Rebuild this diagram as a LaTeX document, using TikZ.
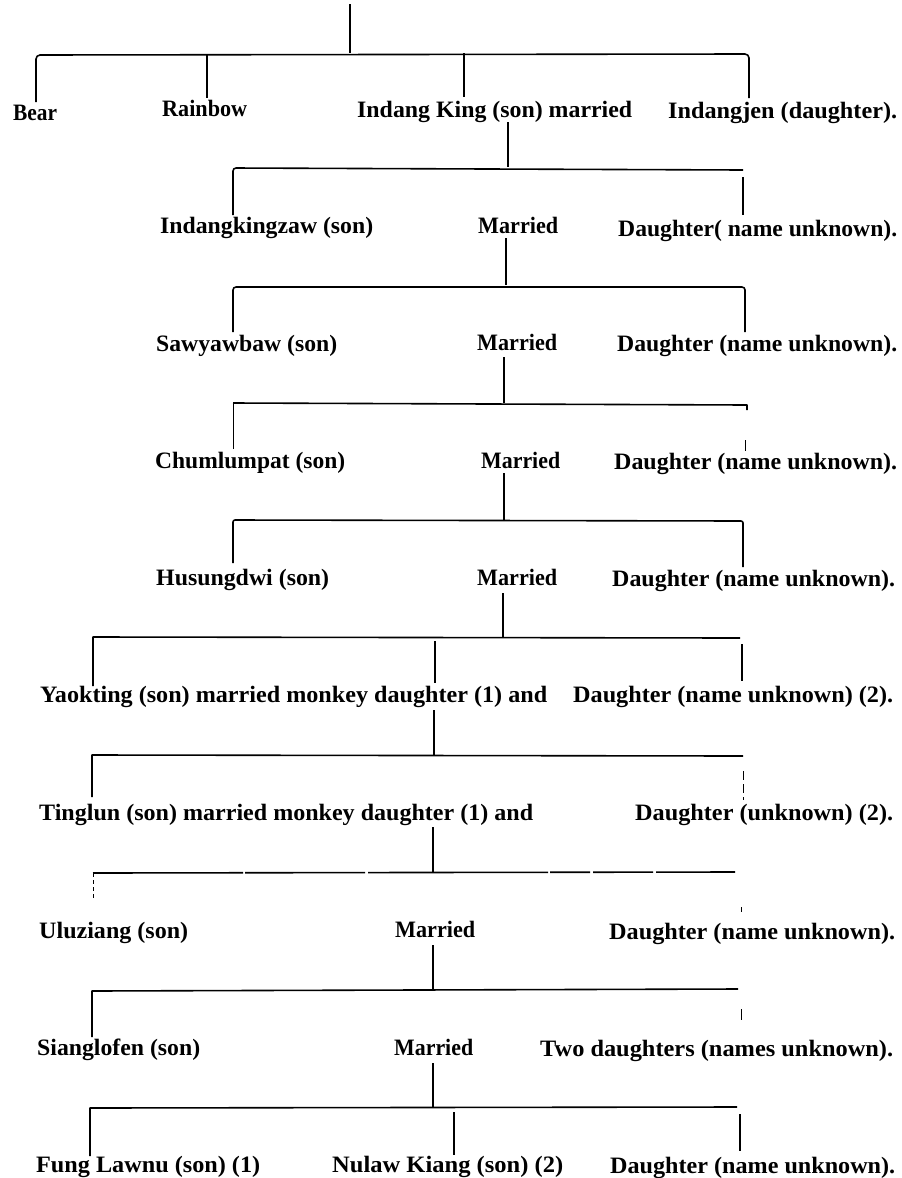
\documentclass[tikz,border=0pt]{standalone}
\usepackage{fontspec}
\setmainfont{Liberation Serif}
\usepackage{graphicx}
\newsavebox\fitbox
\newcommand\fitw[2]{\sbox\fitbox{#2}\pgfmathsetmacro\fitr{#1/\wd\fitbox}\scalebox{\fitr}[1]{\usebox\fitbox}}
\begin{document}
\begin{tikzpicture}[x=1pt,y=-1pt,
  txt/.style={anchor=base west, inner sep=0pt, font=\bfseries\fontsize{23.5}{27}\selectfont},
  bar/.style={line width=1.6pt, line join=round},
  drop/.style={line width=2.6pt},
  leg/.style={line width=1.6pt},
  faint/.style={line width=0.8pt}]
\fill[white] (0,0) rectangle (902,1178);
\useasboundingbox (0,0) rectangle (902,1178);

% ---------- texts ----------
% row 1
\node[txt] (bear)      at (13,120)  {\fitw{44}{Bear}};
\node[txt] (rainbow)   at (162,116) {\fitw{85}{Rainbow}};
\node[txt] (indang)    at (357,117) {\fitw{275}{Indang King (son) married}};
\node[txt] (indangjen) at (668,118) {\fitw{229}{Indangjen (daughter).}};
% row 2
\node[txt] (s2) at (160,233) {\fitw{213}{Indangkingzaw (son)}};
\node[txt] (m2) at (478,233) {\fitw{80}{Married}};
\node[txt] (d2) at (618,236) {\fitw{279}{Daughter( name unknown).}};
% row 3
\node[txt] (s3) at (156,351) {\fitw{181}{Sawyawbaw (son)}};
\node[txt] (m3) at (477,350) {\fitw{80}{Married}};
\node[txt] (d3) at (617,351) {\fitw{280}{Daughter (name unknown).}};
% row 4
\node[txt] (s4) at (155,468) {\fitw{190}{Chumlumpat (son)}};
\node[txt] (m4) at (481,468) {\fitw{79}{Married}};
\node[txt] (d4) at (614,469) {\fitw{283}{Daughter (name unknown).}};
% row 5
\node[txt] (s5) at (156,585) {\fitw{173}{Husungdwi (son)}};
\node[txt] (m5) at (477,585) {\fitw{80}{Married}};
\node[txt] (d5) at (612,586) {\fitw{283}{Daughter (name unknown).}};
% row 6
\node[txt] (s6) at (40,702)  {\fitw{507}{Yaokting (son) married monkey daughter (1) and}};
\node[txt] (d6) at (573,702) {\fitw{320}{Daughter (name unknown) (2).}};
% row 7
\node[txt] (s7) at (39,820)  {\fitw{494}{Tinglun (son) married monkey daughter (1) and}};
\node[txt] (d7) at (635,820) {\fitw{258}{Daughter (unknown) (2).}};
% row 8
\node[txt] (s8) at (39,938)  {\fitw{149}{Uluziang (son)}};
\node[txt] (m8) at (395,937) {\fitw{80}{Married}};
\node[txt] (d8) at (609,939) {\fitw{286}{Daughter (name unknown).}};
% row 9
\node[txt] (s9) at (37,1055)  {\fitw{163}{Sianglofen (son)}};
\node[txt] (m9) at (394,1055) {\fitw{79}{Married}};
\node[txt] (d9) at (540,1056) {\fitw{353}{Two daughters (names unknown).}};
% row 10
\node[txt] (s10) at (36,1172)  {\fitw{224}{Fung Lawnu (son) (1)}};
\node[txt] (n10) at (332,1172) {\fitw{231}{Nulaw Kiang (son) (2)}};
\node[txt] (d10) at (610,1173) {\fitw{285}{Daughter (name unknown).}};

% ---------- connectors ----------
% generation 0 -> 1
\coordinate (t0) at (350,4);   \coordinate (j0) at (350,53);
\coordinate (l0) at (36,102);  \coordinate (lc0) at (36,55);
\coordinate (r0) at (749,98);  \coordinate (rc0) at (749,54);
\coordinate (ra0) at (207,54); \coordinate (rb0) at (207,98);
\coordinate (ia0) at (464,53); \coordinate (ib0) at (464,97);
\draw[drop] (t0) -- (j0);
\draw[bar, rounded corners=4pt] (l0) -- (lc0) -- (rc0) -- (r0);
\draw[leg] (ra0) -- (rb0);
\draw[leg, line width=2.2pt] (ia0) -- (ib0);

% generation 1 -> 2
\coordinate (t1) at (508,122); \coordinate (j1) at (508,167);
\coordinate (l1) at (233,215); \coordinate (lc1) at (233,168);
\coordinate (rc1) at (743,170); \coordinate (ra1) at (743,177); \coordinate (r1) at (743,215);
\draw[drop] (t1) -- (j1);
\draw[bar, rounded corners=3pt] (l1) -- (lc1) -- (rc1);
\draw[leg] (ra1) -- (r1);

% generation 2 -> 3
\coordinate (t2) at (506,238); \coordinate (j2) at (506,285);
\coordinate (l2) at (233,332); \coordinate (lc2) at (233,287);
\coordinate (rc2) at (745,287); \coordinate (r2) at (745,332);
\draw[drop] (t2) -- (j2);
\draw[bar, rounded corners=3pt] (l2) -- (lc2) -- (rc2) -- (r2);

% generation 3 -> 4
\coordinate (t3) at (504,357); \coordinate (j3) at (504,403);
\coordinate (l3) at (233,449); \coordinate (lc3) at (233,403);
\coordinate (rc3) at (747,405); \coordinate (r3) at (747,410);
\coordinate (ta3) at (745,440); \coordinate (tb3) at (745,451);
\draw[drop] (t3) -- (j3);
\draw[bar] (lc3) -- (rc3) -- (r3);
\draw[faint] (l3) -- (lc3);
\draw[faint] (ta3) -- (tb3);

% generation 4 -> 5
\coordinate (t4) at (504,473); \coordinate (j4) at (504,520);
\coordinate (l4) at (233,563); \coordinate (lc4) at (233,520);
\coordinate (rc4) at (743,521); \coordinate (r4) at (743,567);
\draw[drop] (t4) -- (j4);
\draw[bar, rounded corners=2pt] (l4) -- (lc4) -- (rc4) -- (r4);

% generation 5 -> 6
\coordinate (t5) at (503,593); \coordinate (j5) at (503,637);
\coordinate (l5) at (93,686);  \coordinate (lc5) at (93,637);
\coordinate (rc5) at (740,638);
\coordinate (ma5) at (435,641); \coordinate (mb5) at (435,683);
\coordinate (ra5) at (742,644); \coordinate (rb5) at (742,681);
\draw[drop] (t5) -- (j5);
\draw[bar] (l5) -- (lc5) -- (rc5);
\draw[leg, line width=2.2pt] (ma5) -- (mb5);
\draw[leg] (ra5) -- (rb5);

% generation 6 -> 7
\coordinate (t6) at (434,710); \coordinate (j6) at (434,755);
\coordinate (l6) at (92,797);  \coordinate (lc6) at (92,755);
\coordinate (rc6) at (743,756);
\coordinate (ra6) at (743,771); \coordinate (rb6) at (743,800);
\draw[drop] (t6) -- (j6);
\draw[bar] (l6) -- (lc6) -- (rc6);
\draw[faint, dash pattern=on 9pt off 4pt] (ra6) -- (rb6);

% generation 7 -> 8
\coordinate (t7) at (433,827); \coordinate (j7) at (433,873);
\coordinate (l7) at (93,899);  \coordinate (lc7) at (93,873);
\coordinate (rc7) at (735,872);
\coordinate (ra7) at (741,907); \coordinate (rb7) at (741,912);
\draw[drop] (t7) -- (j7);
\draw[bar, dash pattern=on 150pt off 2pt on 120pt off 3pt on 180pt off 2pt on 40pt off 3pt on 60pt off 3pt] (lc7) -- (rc7);
\draw[faint, dash pattern=on 4pt off 3pt] (lc7) -- (l7);
\draw[faint] (ra7) -- (rb7);

% generation 8 -> 9
\coordinate (t8) at (433,945); \coordinate (j8) at (433,990);
\coordinate (l8) at (92,1037); \coordinate (lc8) at (92,991);
\coordinate (rc8) at (738,989);
\coordinate (ra8) at (741,1009); \coordinate (rb8) at (741,1020);
\draw[drop] (t8) -- (j8);
\draw[bar] (l8) -- (lc8) -- (rc8);
\draw[faint] (ra8) -- (rb8);

% generation 9 -> 10
\coordinate (t9) at (433,1063); \coordinate (j9) at (433,1107);
\coordinate (l9) at (90,1156);  \coordinate (lc9) at (90,1108);
\coordinate (rc9) at (737,1107);
\coordinate (ma9) at (454,1112); \coordinate (mb9) at (454,1155);
\coordinate (ra9) at (740,1114); \coordinate (rb9) at (740,1151);
\draw[drop] (t9) -- (j9);
\draw[bar] (l9) -- (lc9) -- (rc9);
\draw[leg, line width=2.2pt] (ma9) -- (mb9);
\draw[leg] (ra9) -- (rb9);
\end{tikzpicture}
\end{document}
